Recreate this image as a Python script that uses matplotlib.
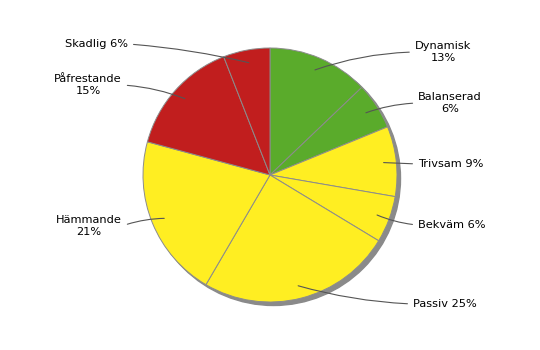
import numpy as np
import matplotlib.pyplot as plt
from matplotlib.patches import Circle

# data
names = ["Dynamisk", "Balanserad", "Trivsam", "Bekväm", "Passiv",
         "Hämmande", "Påfrestande", "Skadlig"]
values = [13, 6, 9, 6, 25, 21, 15, 6]
colors = ["#5aab2b", "#5aab2b", "#ffee22", "#ffee22", "#ffee22",
          "#ffee22", "#c11e1e", "#c11e1e"]
label_texts = ["Dynamisk\n13%", "Balanserad\n6%", "Trivsam 9%", "Bekväm 6%",
               "Passiv 25%", "Hämmande\n21%", "Påfrestande\n15%", "Skadlig 6%"]

W, H = 540, 350
cx, cy, R = 270, H - 175, 127

# label placement (image pixels, y measured from top)
label_pos = [(443, 52), (450, 103), (418, 164), (418, 225),
             (413, 304), (89, 226), (88, 85), (128, 44)]
label_ha = ["center", "center", "left", "left", "left",
            "center", "center", "right"]
rads = [0.08, 0.08, 0.0, -0.08, -0.06, -0.08, -0.08, -0.04]

fig = plt.figure(figsize=(W / 100, H / 100), dpi=100)
ax = fig.add_axes([0, 0, 1, 1])

# shadow
ax.add_patch(Circle((cx + 3.5, cy - 3.5), R, color="#8a8a8a", zorder=0))

wedges, _ = ax.pie(values, colors=colors, startangle=90, counterclock=False,
                   center=(cx, cy), radius=R, frame=True,
                   wedgeprops=dict(edgecolor="#8c8c8c", linewidth=0.7))
ax.set_xlim(0, W)
ax.set_ylim(0, H)
ax.set_aspect("equal")
ax.axis("off")

for w, txt, (tx, ty), ha, rad in zip(wedges, label_texts, label_pos, label_ha, rads):
    mid = np.deg2rad((w.theta1 + w.theta2) / 2)
    px = cx + 0.9 * R * np.cos(mid)
    py = cy + 0.9 * R * np.sin(mid)
    if ha == "center":
        relpos = (0, 0.5) if tx > cx else (1, 0.5)
    elif ha == "left":
        relpos = (0, 0.5)
    else:
        relpos = (1, 0.5)
    ax.annotate(txt, xy=(px, py), xytext=(tx, H - ty), ha=ha, va="center",
                multialignment="center", fontsize=8.2, color="black",
                arrowprops=dict(arrowstyle="-", color="#555555", lw=0.8,
                                relpos=relpos, shrinkA=2, shrinkB=0,
                                connectionstyle=f"arc3,rad={rad}"))

fig.savefig("out.png", dpi=100)
